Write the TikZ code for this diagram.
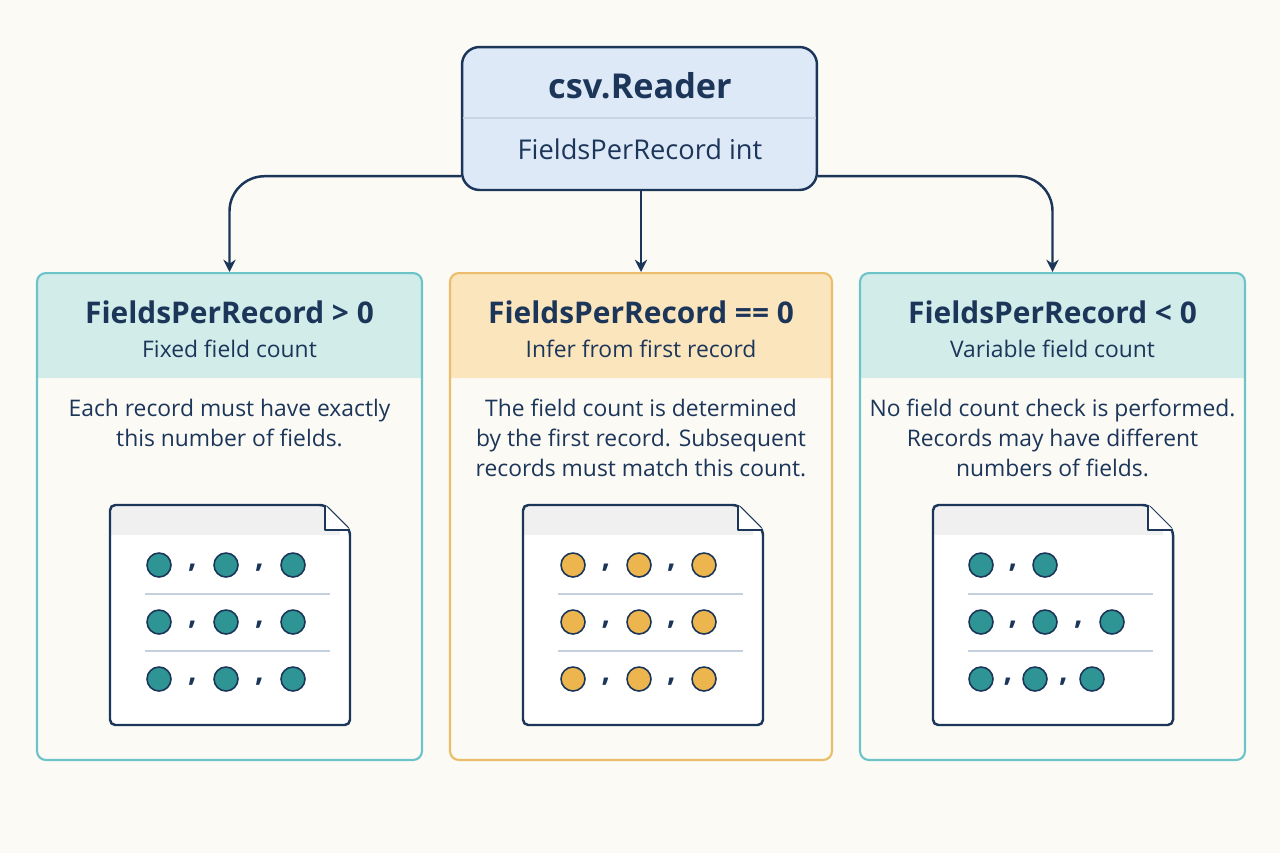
\documentclass[tikz,border=0pt]{standalone}
\usepackage{fontspec}
\setmainfont{Open Sans}
\usetikzlibrary{positioning,arrows.meta}
\definecolor{navy}{HTML}{1C365A}
\definecolor{bgc}{HTML}{FBFAF5}
\definecolor{tealline}{HTML}{6CC3C8}
\definecolor{tealhead}{HTML}{D2ECEA}
\definecolor{tealdot}{HTML}{2F9494}
\definecolor{orline}{HTML}{EBBD6A}
\definecolor{orhead}{HTML}{FBE5BD}
\definecolor{ordot}{HTML}{EDB54E}
\definecolor{bluefill}{HTML}{DEE9F8}
\definecolor{rowline}{HTML}{C5D0DE}
\begin{document}
\begin{tikzpicture}[
            x=0.02cm, y=-0.02cm,
            reader/.style={
                rectangle,
                rounded corners=10pt,
                draw=navy,
                line width=1.4pt,
                fill=bluefill,
                minimum width=7.1cm,
                minimum height=2.86cm,
            },
            panel/.style={
                rectangle,
                rounded corners=5pt,
                line width=1.2pt,
                minimum width=7.7cm,
                minimum height=9.74cm,
            },
            title/.style={
                text=navy,
                font=\bfseries\fontsize{17}{20}\selectfont
            },
            sub/.style={
                text=navy,
                font=\fontsize{13}{15}\selectfont
            },
            item/.style={
                text=navy,
                align=center,
                font=\fontsize{13}{17.3}\selectfont
            },
            dot/.style={circle, draw=navy, line width=0.9pt, minimum size=0.48cm, inner sep=0pt},
            comma/.style={text=navy, font=\bfseries\fontsize{17}{17}\selectfont, inner sep=0pt},
            arrow/.style={-{Stealth[length=7pt,width=7pt]}, line width=1.4pt, draw=navy}
        ]

        % Background
        \fill[bgc] (0,0) rectangle (1280,853);

        % Reader box
        \node[reader] (reader) at (639.5,118.5) {};
        \draw[rowline!80!bluefill, line width=1pt] (463,118) -- (816,118);
        \node[text=navy, font=\bfseries\fontsize{19.5}{22}\selectfont] (rtitle) at (640,86) {csv.Reader};
        \node[text=navy, font=\fontsize{15.5}{18}\selectfont] (rfield) at (640,149) {FieldsPerRecord int};

        % Panel headers
        \fill[tealhead] (37,378) [rounded corners=5pt] -- (37,273) -- (422,273) [sharp corners] -- (422,378) -- cycle;
        \fill[orhead] (450,378) [rounded corners=5pt] -- (450,273) -- (832,273) [sharp corners] -- (832,378) -- cycle;
        \fill[tealhead] (860,378) [rounded corners=5pt] -- (860,273) -- (1245,273) [sharp corners] -- (1245,378) -- cycle;

        % Panels
        \node[panel, draw=tealline] (left) at (229.5,516.5) {};
        \node[panel, draw=orline, minimum width=7.64cm] (mid) at (641,516.5) {};
        \node[panel, draw=tealline] (right) at (1052.5,516.5) {};

        % Connecting arrows
        \draw[arrow, rounded corners=0.7cm] ([yshift=0.3cm]reader.south west) -| (left.north);
        \draw[arrow] (reader.south -| mid.north) -- (mid.north);
        \draw[arrow, rounded corners=0.7cm] ([yshift=0.3cm]reader.south east) -| (right.north);

        % Panel texts
        \node[title] (t1) at (229.5,312) {FieldsPerRecord > 0};
        \node[sub] (s1) at (229.5,349) {Fixed field count};
        \node[item] (i1) at (229.5,423) {Each record must have exactly\\this number of fields.};
        \node[title] (t2) at (641,312) {FieldsPerRecord == 0};
        \node[sub] (s2) at (641,349) {Infer from first record};
        \node[item] (i2) at (641,438) {The field count is determined\\by the first record. Subsequent\\records must match this count.};
        \node[title] (t3) at (1052.5,312) {FieldsPerRecord < 0};
        \node[sub] (s3) at (1052.5,349) {Variable field count};
        \node[item] (i3) at (1052.5,438) {No field count check is performed.\\Records may have different\\numbers of fields.};

        % Document icons
        \foreach \dx in {110,523,933} {
            \begin{scope}[shift={(\dx,505)}]
                \fill[white] (0,0) -- (215,0) -- (240,25) -- (240,220) -- (0,220) -- cycle;
                \fill[gray!12] (0,0) -- (215,0) -- (230,15) -- (230,30) -- (0,30) -- cycle;
                \draw[navy, line width=1.4pt, rounded corners=3pt] (0,0) -- (215,0) -- (240,25) -- (240,220) -- (0,220) -- cycle;
                \draw[navy, line width=1.4pt, fill=white, line join=round] (215,0) -- (215,25) -- (240,25);
                \draw[rowline, line width=1.2pt] (35,89) -- (220,89);
                \draw[rowline, line width=1.2pt] (35,146) -- (220,146);
            \end{scope}
        }

        % Dots, left panel
        \foreach \y in {565,622,679} {
            \foreach \x in {159,226,293} \node[dot, fill=tealdot] at (\x,\y) {};
            \foreach \x in {192.5,259.5} \node[comma] at (\x,\y+3) {,};
        }
        % Dots, middle panel
        \foreach \y in {565,622,679} {
            \foreach \x in {573,639,704} \node[dot, fill=ordot] at (\x,\y) {};
            \foreach \x in {606,671.5} \node[comma] at (\x,\y+3) {,};
        }
        % Dots, right panel
        \foreach \x in {981,1045} \node[dot, fill=tealdot] at (\x,565) {};
        \node[comma] at (1013,568) {,};
        \foreach \x in {981,1045,1112} \node[dot, fill=tealdot] at (\x,622) {};
        \foreach \x in {1013,1078.5} \node[comma] at (\x,625) {,};
        \foreach \x in {981,1035,1092} \node[dot, fill=tealdot] at (\x,679) {};
        \foreach \x in {1008,1063.5} \node[comma] at (\x,682) {,};

        \end{tikzpicture}
\end{document}
